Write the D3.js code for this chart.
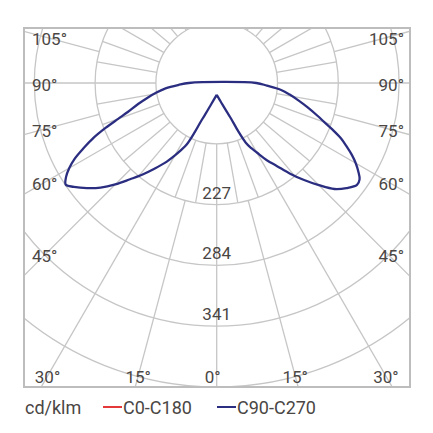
<!DOCTYPE html>
<html>
<head>
<meta charset="utf-8">
<script src="https://cdn.jsdelivr.net/npm/d3@7"></script>
<style>
  body { margin: 0; background: #fff; }
  text { font-family: Roboto, "Liberation Sans", sans-serif; fill: #4a4644; }
</style>
</head>
<body>
<div class="chart"></div>
<script>
// Gamma angles (deg from nadir) of the measured points
var gammas = [0, 5, 10, 15, 20, 22, 24, 26, 28, 30, 33, 36, 39, 42, 45, 48, 51, 54, 56, 58, 60, 62, 64, 66, 68, 70, 72, 75, 78, 81, 84, 87, 90];

// Intensity, cd/klm, C270 half (left side of the diagram)
var c270 = [11, 13, 16, 21, 31, 37, 50, 64, 71, 78, 89, 99, 110, 121, 134, 146, 156, 165, 170, 166, 159, 150, 138, 126, 112, 98, 87, 76, 66, 57, 48, 36, 26];

// Intensity, cd/klm, C90 half (right side of the diagram)
var c90 = [11, 13, 16, 21, 30, 36, 49, 62, 69, 75, 86, 96, 109, 122, 135, 148, 156, 162, 161, 156, 150, 143, 135, 127, 117, 107, 99, 88, 78, 69, 60, 47, 37];

// Radial grid
var ringStep = 56.8;
var rings = [1, 2, 3, 4, 5, 6];
var ringLabels = ["227", "284", "341"];

// Angle labels around the frame
var leftLabels = [105, 90, 75, 60, 45];
var rightLabels = [105, 90, 75, 60, 45];
var bottomLabels = [-30, -15, 0, 15, 30];

var legendItems = [
  { name: "C0-C180", color: "#e5383b" },
  { name: "C90-C270", color: "#2b2e80" }
];

var svgWidth = 433;
var svgHeight = 433;

// frame of the diagram
var box = { left: 24, right: 410, top: 28, bottom: 387 };
var cx = 216.7;
var cy = 83;

var svg = d3.select(".chart")
  .append("svg")
  .attr("width", svgWidth)
  .attr("height", svgHeight);

svg.append("clipPath")
  .attr("id", "frame")
  .append("rect")
  .attr("x", box.left)
  .attr("y", box.top)
  .attr("width", box.right - box.left)
  .attr("height", box.bottom - box.top);

var rScale = d3.scaleLinear()
  .domain([0, ringStep])
  .range([0, 60.8]);

function rad(a) { return a * Math.PI / 180; }

// clip in page coords, then shift to the pole
var grid = svg.append("g")
  .attr("clip-path", "url(#frame)")
  .append("g")
  .attr("transform", `translate(${cx}, ${cy})`);

var gridColor = "#c6c6c6";

// circles
grid.selectAll(".ring")
  .data(rings)
  .enter()
  .append("circle")
  .attr("class", "ring")
  .attr("r", d => rScale(d * ringStep))
  .attr("fill", "none")
  .attr("stroke", gridColor)
  .attr("stroke-width", 1.3);

// rays every 10 deg between first and second ring
var innerRays = d3.range(0, 360, 10);
grid.selectAll(".ray-inner")
  .data(innerRays)
  .enter()
  .append("line")
  .attr("class", "ray-inner")
  .attr("x1", a => rScale(ringStep) * Math.sin(rad(a)))
  .attr("y1", a => rScale(ringStep) * Math.cos(rad(a)))
  .attr("x2", a => rScale(2 * ringStep) * Math.sin(rad(a)))
  .attr("y2", a => rScale(2 * ringStep) * Math.cos(rad(a)))
  .attr("stroke", gridColor)
  .attr("stroke-width", 1.3);

// rays every 15 deg from second ring out to the frame
var outerRays = d3.range(0, 360, 15);
grid.selectAll(".ray")
  .data(outerRays)
  .enter()
  .append("line")
  .attr("class", "ray")
  .attr("x1", a => rScale(2 * ringStep) * Math.sin(rad(a)))
  .attr("y1", a => rScale(2 * ringStep) * Math.cos(rad(a)))
  .attr("x2", a => 600 * Math.sin(rad(a)))
  .attr("y2", a => 600 * Math.cos(rad(a)))
  .attr("stroke", gridColor)
  .attr("stroke-width", 1.3);

// frame
svg.append("rect")
  .attr("x", box.left)
  .attr("y", box.top)
  .attr("width", box.right - box.left)
  .attr("height", box.bottom - box.top)
  .attr("fill", "none")
  .attr("stroke", "#bdbdbd")
  .attr("stroke-width", 2);

// ring values under the centre line
svg.selectAll(".ring-label")
  .data(ringLabels)
  .enter()
  .append("text")
  .attr("class", "ring-label")
  .attr("x", cx)
  .attr("y", (d, i) => cy + rScale((i + 2) * ringStep) - 6)
  .attr("text-anchor", "middle")
  .style("font-size", "17px")
  .text(d => d);

// angle labels
svg.selectAll(".left-label")
  .data(leftLabels)
  .enter()
  .append("text")
  .attr("class", "left-label")
  .attr("x", box.left + 8)
  .attr("y", a => cy + (cx - 46) * Math.cos(rad(a)) / Math.sin(rad(a)) + 8)
  .style("font-size", "17px")
  .text(a => a + "°");

svg.selectAll(".right-label")
  .data(rightLabels)
  .enter()
  .append("text")
  .attr("class", "right-label")
  .attr("x", box.right - 6)
  .attr("y", a => cy + (388 - cx) * Math.cos(rad(a)) / Math.sin(rad(a)) + 8)
  .attr("text-anchor", "end")
  .style("font-size", "17px")
  .text(a => a + "°");

svg.selectAll(".bottom-label")
  .data(bottomLabels)
  .enter()
  .append("text")
  .attr("class", "bottom-label")
  .attr("x", a => cx + (376 - cy) * Math.tan(rad(a)) - (a == 0 ? 4 : 0))
  .attr("y", 383)
  .attr("text-anchor", "middle")
  .style("font-size", "17px")
  .text(a => Math.abs(a) + "°");

// light distribution curve: C270 half from nadir to 90, then C90 half back
var pts = [];
gammas.forEach(function (g, i) {
  pts.push({ angle: Math.PI + rad(g), value: c270[i] });
});
for (var i = gammas.length - 1; i >= 0; i--) {
  pts.push({ angle: Math.PI - rad(gammas[i]), value: c90[i] });
}

var curve = d3.lineRadial()
  .angle(d => d.angle)
  .radius(d => rScale(d.value))
  .curve(d3.curveCatmullRom.alpha(0.5));

svg.append("path")
  .attr("transform", `translate(${cx}, ${cy})`)
  .attr("d", curve(pts))
  .attr("fill", "none")
  .attr("stroke", "#2b2e80")
  .attr("stroke-width", 2.3)
  .attr("stroke-linejoin", "round");

// legend
var legend = svg.append("g");

legend.append("text")
  .attr("x", 25)
  .attr("y", 414)
  .style("font-size", "18px")
  .text("cd/klm");

var legendX = [103, 217];
legendItems.forEach(function (d, i) {
  legend.append("line")
    .attr("x1", legendX[i])
    .attr("x2", legendX[i] + 19)
    .attr("y1", 407)
    .attr("y2", 407)
    .attr("stroke", d.color)
    .attr("stroke-width", 2);
  legend.append("text")
    .attr("x", legendX[i] + 20)
    .attr("y", 414)
    .style("font-size", "18px")
    .text(d.name);
});
</script>
</body>
</html>
